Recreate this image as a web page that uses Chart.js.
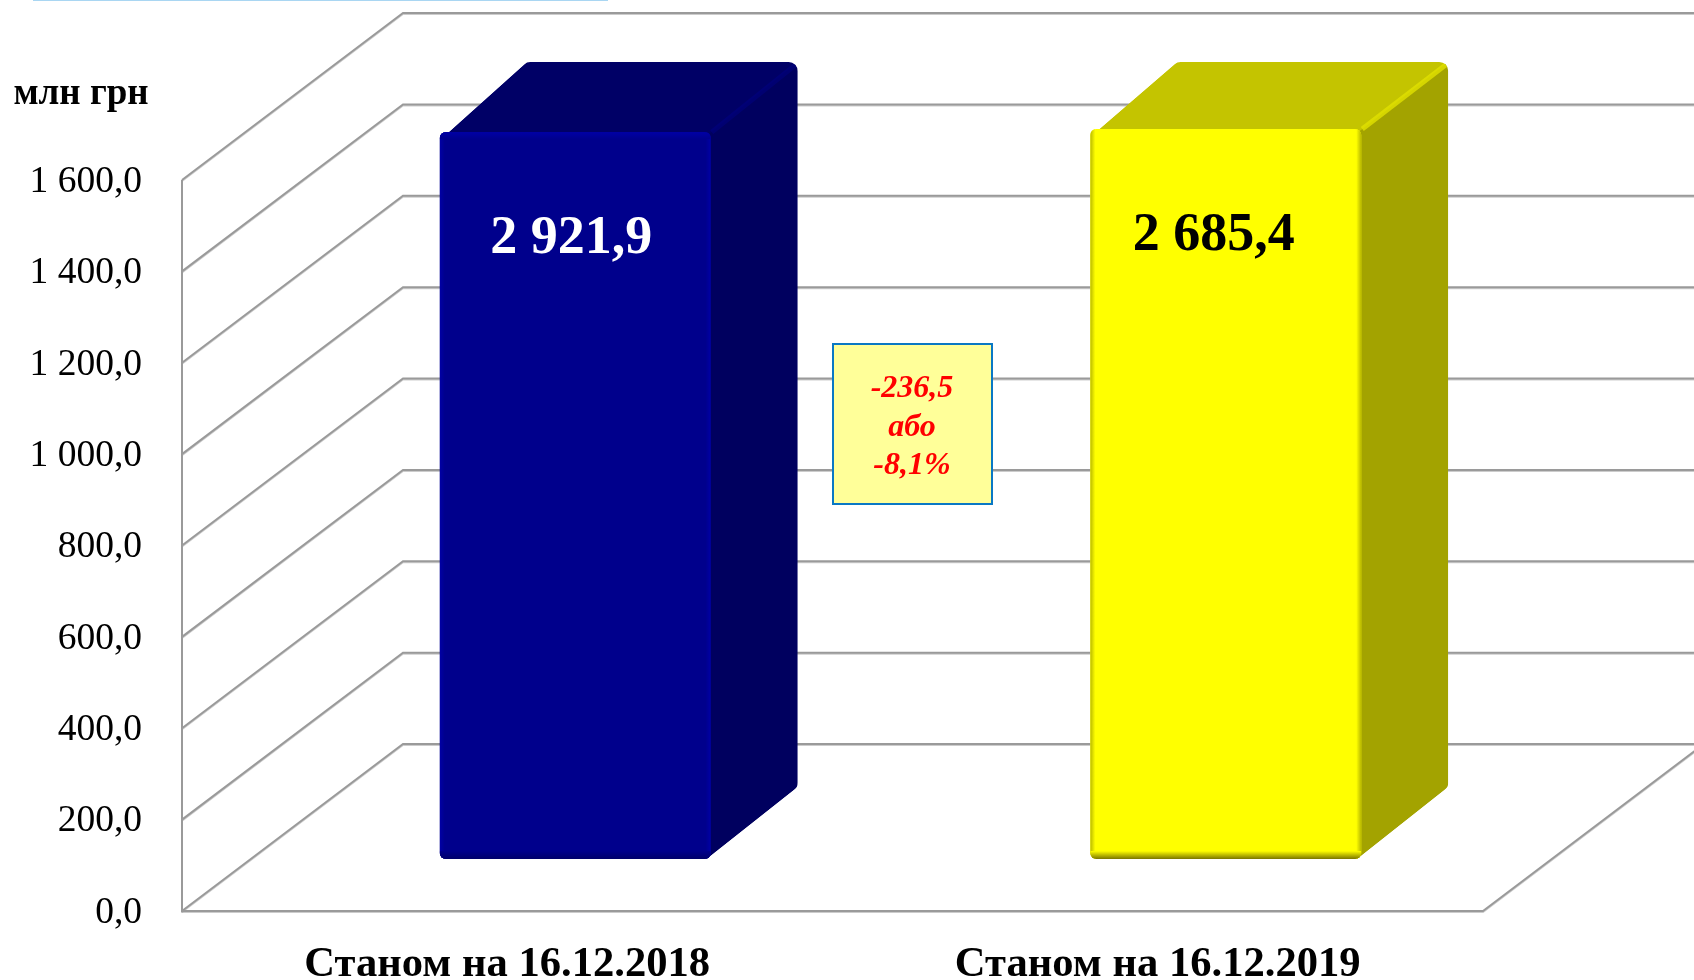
<!DOCTYPE html>
<html>
<head>
<meta charset="utf-8">
<title>Chart</title>
<script src="https://cdn.jsdelivr.net/npm/chart.js@4/dist/chart.umd.min.js"></script>
<style>
  html, body { margin: 0; padding: 0; background: #fff; }
  canvas { display: block; }
</style>
</head>
<body>
<canvas id="chart" width="1694" height="980"></canvas>
<script>
const categories = ['Станом на 16.12.2018', 'Станом на 16.12.2019'];
const barHeights = [1591, 1598]; // height of the bars against the axis
const valueLabels = ['2 921,9', '2 685,4'];
const tickLabels = ['0,0', '200,0', '400,0', '600,0', '800,0', '1 000,0', '1 200,0', '1 400,0', '1 600,0'];
const unitLabel = 'млн грн';
const noteLines = ['-236,5', 'або', '-8,1%'];

const serif = '"Liberation Serif", "Times New Roman", serif';
const gridColor = '#9a9a9a';

// depth of the 3d box the chart sits in
const wall = { dx: 221, dy: 167 };
// how far the bars stand in from the front edge of the floor
const barShift = { x: 68, y: 52 };
const barDepth = { dx: 87, top: [70, 67], bottom: 72 };

const faces = [
  { front: '#00008c', top: '#000066', side: '#00005f', ridge: 'rgba(0,0,150,0.35)', edge: '#0000a6', low: '#00006a', text: '#ffffff', nudge: -4 },
  { front: '#ffff00', top: '#c4c400', side: '#a3a300', ridge: 'rgba(225,225,0,0.8)', edge: '#b8b800', low: '#7a7600', text: '#000000', nudge: -12 }
];

// polygon with rounded corners, r per corner
const roundedPoly = (ctx, pts, radii) => {
  ctx.beginPath();
  const n = pts.length;
  ctx.moveTo((pts[n - 1].x + pts[0].x) / 2, (pts[n - 1].y + pts[0].y) / 2);
  pts.forEach((p, i) => {
    const next = pts[(i + 1) % n];
    ctx.arcTo(p.x, p.y, next.x, next.y, radii[i]);
  });
  ctx.closePath();
};

const sharpPoly = (ctx, pts, color) => {
  ctx.beginPath();
  pts.forEach((p, i) => (i ? ctx.lineTo(p.x, p.y) : ctx.moveTo(p.x, p.y)));
  ctx.closePath();
  ctx.fillStyle = color;
  ctx.fill();
};

const boxWalls = {
  id: 'boxWalls',
  beforeDatasetsDraw(chart) {
    const { ctx, chartArea: a, scales: { y } } = chart;
    ctx.save();
    ctx.strokeStyle = gridColor;
    ctx.lineWidth = 2;
    ctx.shadowColor = 'rgba(0,0,0,0.2)';
    ctx.shadowOffsetY = 1;
    y.ticks.forEach((t, i) => {
      const py = y.getPixelForTick(i);
      ctx.beginPath();
      ctx.moveTo(a.left, py);
      ctx.lineTo(a.left + wall.dx, py - wall.dy);
      ctx.lineTo(chart.width, py - wall.dy);
      ctx.stroke();
    });
    ctx.beginPath();
    ctx.moveTo(a.left, a.top);
    ctx.lineTo(a.left, a.bottom);
    ctx.lineTo(a.right, a.bottom);
    ctx.lineTo(a.right + wall.dx, a.bottom - wall.dy);
    ctx.stroke();
    ctx.shadowColor = 'transparent';
    // thin blue rule cut off at the top of the picture
    ctx.fillStyle = '#a9d6f2';
    ctx.fillRect(33, 0, 575, 1);
    ctx.restore();
  }
};

const boxBars = {
  id: 'boxBars',
  beforeDatasetDraw(chart, args) {
    const { ctx } = chart;
    ctx.save();
    ctx.translate(barShift.x, -barShift.y);
    args.meta.data.forEach((bar, i) => {
      const L = bar.x - bar.width / 2;
      const R = bar.x + bar.width / 2;
      const t = bar.y;
      const b = bar.base;
      const f = faces[i];
      const dx = barDepth.dx;
      const topY = t - barDepth.top[i];
      const lowY = b - barDepth.bottom;
      ctx.save();
      // one rounded outline for top and side, faces are clipped to it
      roundedPoly(ctx, [
        { x: L, y: t + 8 },
        { x: L + dx, y: topY },
        { x: R + dx, y: topY },
        { x: R + dx, y: lowY },
        { x: R - 4, y: b }
      ], [4, 9, 9, 9, 0]);
      ctx.clip();
      sharpPoly(ctx, [
        { x: L, y: t + 8 },
        { x: L + dx, y: topY },
        { x: R + dx + 2, y: topY },
        { x: R, y: t + 8 }
      ], f.top);
      sharpPoly(ctx, [
        { x: R - 4, y: t + 4 },
        { x: R + dx, y: topY },
        { x: R + dx, y: lowY },
        { x: R - 4, y: b }
      ], f.side);
      ctx.strokeStyle = f.ridge;
      ctx.lineWidth = 5;
      ctx.beginPath();
      ctx.moveTo(R + 1, t);
      ctx.lineTo(R + dx, topY + 1);
      ctx.stroke();
      ctx.restore();
    });
    return true;
  },
  afterDatasetDraw(chart, args) {
    const { ctx } = chart;
    args.meta.data.forEach((bar, i) => {
      const L = bar.x - bar.width / 2;
      const R = bar.x + bar.width / 2;
      const t = bar.y;
      const b = bar.base;
      const f = faces[i];
      ctx.save();
      ctx.beginPath();
      ctx.roundRect(L, t, R - L, b - t, 6);
      ctx.clip();
      const strip = (x0, y0, x1, y1, color) => {
        const g = ctx.createLinearGradient(x0, y0, x1, y1);
        g.addColorStop(0, color);
        g.addColorStop(1, f.front);
        ctx.fillStyle = g;
        ctx.fillRect(Math.min(x0, x1), Math.min(y0, y1), Math.abs(x1 - x0) || R - L, Math.abs(y1 - y0) || b - t);
      };
      strip(L, t, L + 5, t, f.edge);
      strip(R, t, R - 5, t, f.edge);
      strip(L, b, L, b - 8, f.low);
      if (i === 0) strip(L, t, L, t + 7, f.edge);
      ctx.restore();
    });
    ctx.restore();
  }
};

const textLayer = {
  id: 'textLayer',
  afterDraw(chart) {
    const { ctx } = chart;
    const bars = chart.getDatasetMeta(0).data;
    ctx.save();
    ctx.textAlign = 'center';
    ctx.textBaseline = 'middle';

    bars.forEach((bar, i) => {
      ctx.font = 'bold 54px ' + serif;
      ctx.fillStyle = faces[i].text;
      ctx.fillText(valueLabels[i], bar.x + barShift.x + faces[i].nudge, bar.y - barShift.y + 107);
    });

    // note box between the bars
    ctx.fillStyle = '#ffff99';
    ctx.strokeStyle = '#0a78c4';
    ctx.lineWidth = 2;
    ctx.fillRect(833, 344, 159, 160);
    ctx.strokeRect(833, 344, 159, 160);
    ctx.font = 'italic bold 32px ' + serif;
    ctx.fillStyle = '#ff0000';
    [389, 428, 466].forEach((py, i) => ctx.fillText(noteLines[i], 912, py));

    ctx.font = 'bold 37px ' + serif;
    ctx.fillStyle = '#000';
    ctx.fillText(unitLabel, 81, 94);
    ctx.restore();
  }
};

new Chart(document.getElementById('chart').getContext('2d'), {
  type: 'bar',
  data: {
    labels: categories,
    datasets: [{
      data: barHeights,
      backgroundColor: faces.map(f => f.front),
      barPercentage: 0.4166,
      categoryPercentage: 1,
      borderRadius: 6,
      borderSkipped: false,
      clip: false
    }]
  },
  options: {
    responsive: false,
    animation: false,
    layout: { padding: { top: 180, right: 211, bottom: 0, left: 0 } },
    plugins: {
      legend: { display: false },
      tooltip: { enabled: false }
    },
    scales: {
      x: {
        grid: { display: false },
        border: { display: false },
        afterFit: s => { s.height = 69; },
        ticks: {
          color: '#000',
          padding: 20,
          maxRotation: 0,
          font: { family: serif, size: 42.6, weight: 'bold' }
        }
      },
      y: {
        min: 0,
        max: 1600,
        grid: { display: false, drawTicks: false, tickLength: 0 },
        border: { display: false },
        afterFit: s => { s.width = 182; },
        ticks: {
          stepSize: 200,
          color: '#000',
          padding: 40,
          labelOffset: 2,
          callback: (v, i) => tickLabels[i],
          font: { family: serif, size: 37.5 }
        }
      }
    }
  },
  plugins: [boxWalls, boxBars, textLayer]
});
</script>
</body>
</html>
